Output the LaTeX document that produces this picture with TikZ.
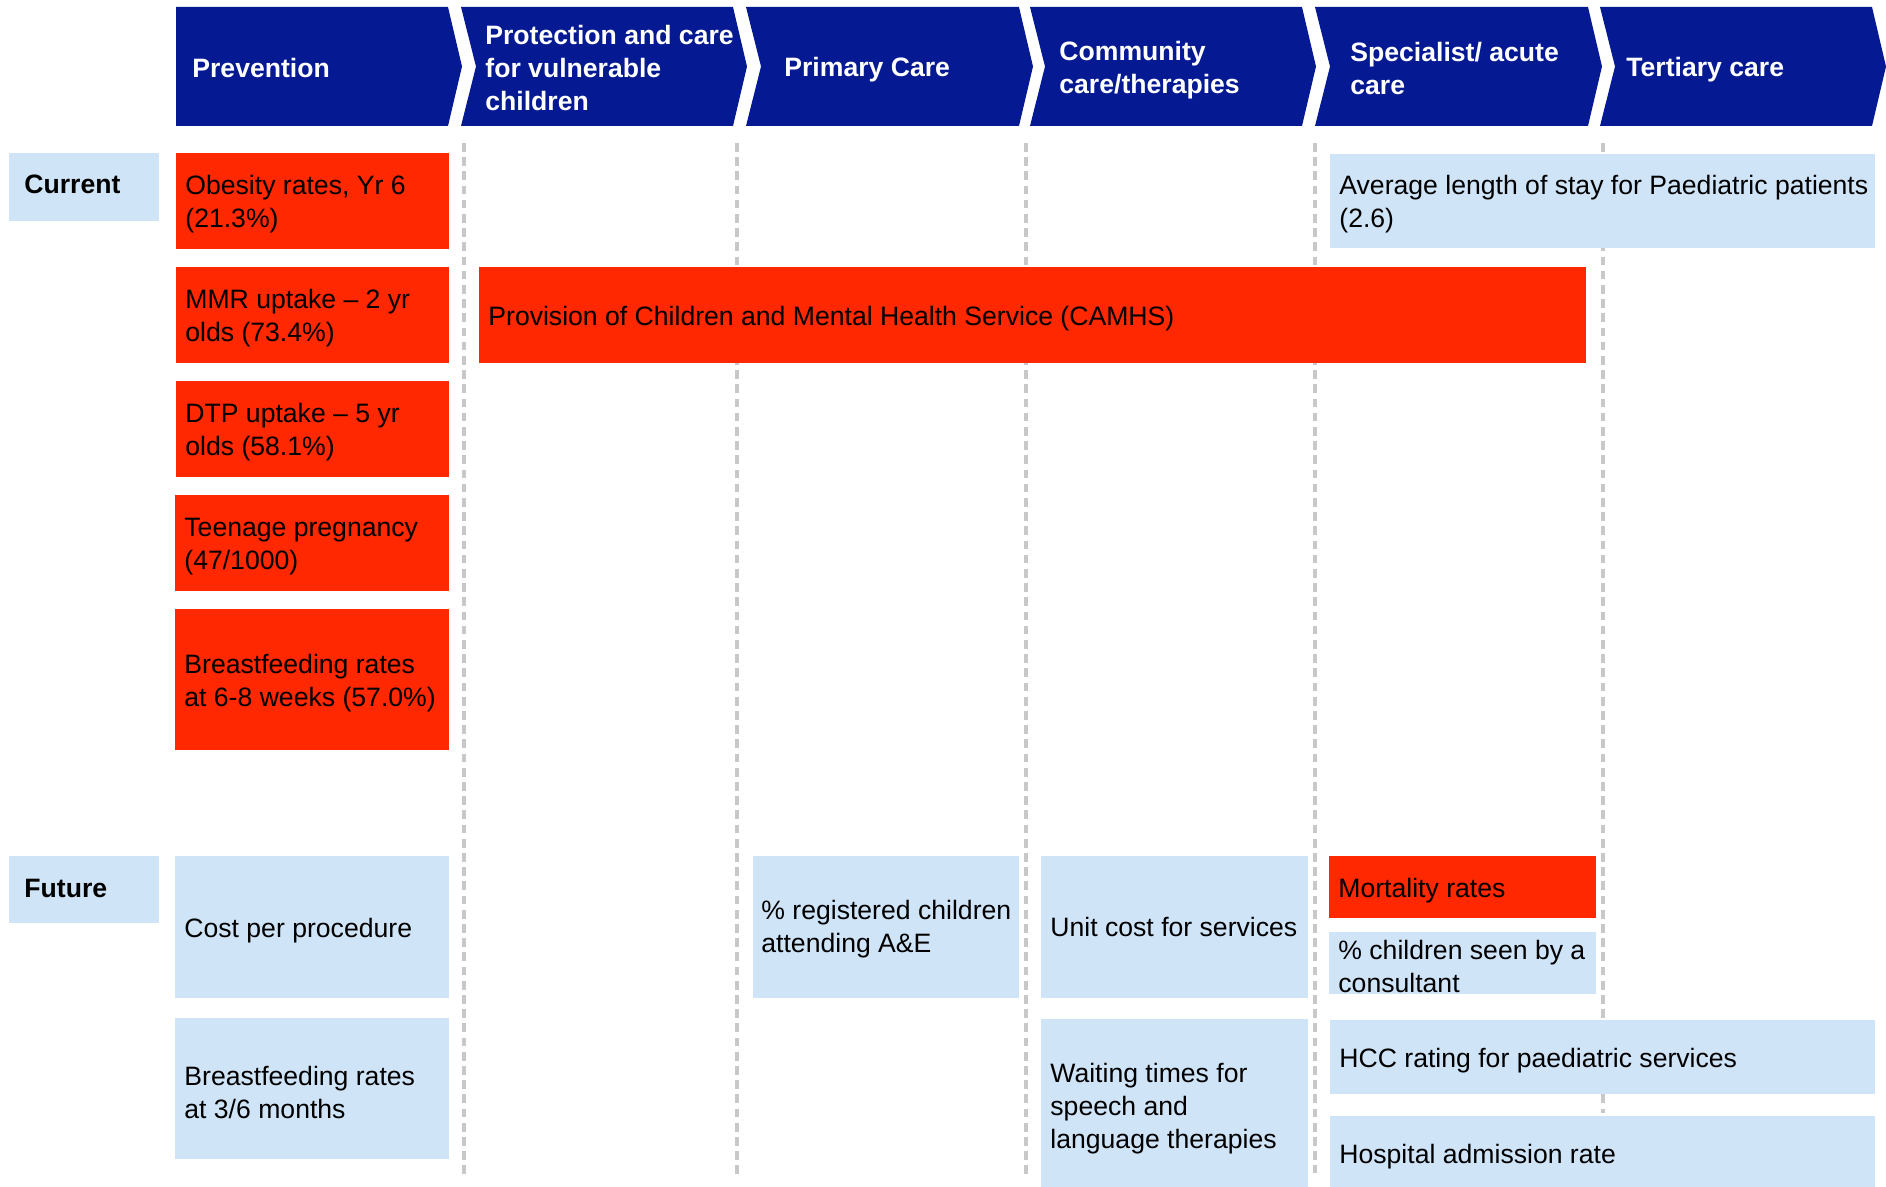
\documentclass[tikz,border=0pt]{standalone}
\usepackage{fontspec}
\setmainfont{Liberation Sans}
\usepackage{tikz}

\definecolor{navyband}{RGB}{4,25,146}
\definecolor{redflag}{RGB}{255,40,0}
\definecolor{paleblue}{RGB}{208,228,248}
\definecolor{gridgrey}{RGB}{200,200,200}

\tikzset{
  stagetext/.style={anchor=west, align=left, inner sep=0pt, text=white,
    font=\fontsize{13.3pt}{16.5pt}\selectfont\bfseries},
  rowtext/.style={anchor=west, align=left, inner sep=0pt, text=black,
    font=\fontsize{13.3pt}{16.5pt}\selectfont\bfseries},
  celltext/.style={anchor=west, align=left, inner sep=0pt, text=black,
    font=\fontsize{13.3pt}{16.5pt}\selectfont},
  gridline/.style={color=gridgrey, line width=1.6pt, dash pattern=on 4.35pt off 2.75pt},
}

\begin{document}
\begin{tikzpicture}[x=0.5pt,y=0.5pt,yscale=-1,xscale=1]
\useasboundingbox (0,0) rectangle (1886,1187);

%Straight Lines
\draw [gridline]    (464,143) -- (464,1177) ;
%Straight Lines
\draw [gridline]    (737,143) -- (737,1177) ;
%Straight Lines
\draw [gridline]    (1026,143) -- (1026,1177) ;
%Straight Lines
\draw [gridline]    (1315,143) -- (1315,1173) ;
%Straight Lines
\draw [gridline]    (1603,143) -- (1603,1113) ;

%Shape: Chevron
\fill [navyband]  (176,7) -- (448,7) -- (462,66.5) -- (448,126) -- (176,126) -- cycle ;
%Shape: Chevron
\fill [navyband]  (461,7) -- (733,7) -- (747,66.5) -- (733,126) -- (461,126) -- (476,66.5) -- cycle ;
%Shape: Chevron
\fill [navyband]  (746,7) -- (1019,7) -- (1033,66.5) -- (1019,126) -- (746,126) -- (761,66.5) -- cycle ;
%Shape: Chevron
\fill [navyband]  (1030,7) -- (1302,7) -- (1316,66.5) -- (1302,126) -- (1030,126) -- (1045,66.5) -- cycle ;
%Shape: Chevron
\fill [navyband]  (1315,7) -- (1588,7) -- (1602,66.5) -- (1588,126) -- (1315,126) -- (1330,66.5) -- cycle ;
%Shape: Chevron
\fill [navyband]  (1600,7) -- (1872,7) -- (1886,66.5) -- (1872,126) -- (1600,126) -- (1615,66.5) -- cycle ;

%Shape: Rectangle
\fill [paleblue]  (9,153) rectangle (159,221) ;
%Shape: Rectangle
\fill [paleblue]  (9,856) rectangle (159,923) ;

%Shape: Rectangle
\fill [redflag]  (176,153) rectangle (449,249) ;
%Shape: Rectangle
\fill [redflag]  (176,267) rectangle (449,363) ;
%Shape: Rectangle
\fill [redflag]  (176,381) rectangle (449,477) ;
%Shape: Rectangle
\fill [redflag]  (175,495) rectangle (449,591) ;
%Shape: Rectangle
\fill [redflag]  (175,609) rectangle (449,750) ;
%Shape: Rectangle
\fill [redflag]  (479,267) rectangle (1586,363) ;
%Shape: Rectangle
\fill [paleblue]  (1330,154) rectangle (1875,248) ;

%Shape: Rectangle
\fill [paleblue]  (175,856) rectangle (449,998) ;
%Shape: Rectangle
\fill [paleblue]  (175,1018) rectangle (449,1159) ;
%Shape: Rectangle
\fill [paleblue]  (753,856) rectangle (1019,998) ;
%Shape: Rectangle
\fill [paleblue]  (1041,856) rectangle (1308,998) ;
%Shape: Rectangle
\fill [paleblue]  (1041,1019) rectangle (1308,1191) ;
%Shape: Rectangle
\fill [redflag]  (1329,856) rectangle (1596,918) ;
%Shape: Rectangle
\fill [paleblue]  (1329,932) rectangle (1596,994) ;
%Shape: Rectangle
\fill [paleblue]  (1330,1020) rectangle (1875,1094) ;
%Shape: Rectangle
\fill [paleblue]  (1330,1116) rectangle (1875,1191) ;

% Text Node
\node [stagetext] (prevention) at (192,67.5) {Prevention};
% Text Node
\node [stagetext] (protection) at (485,67.5) {Protection and care\\for vulnerable\\children};
% Text Node
\node [stagetext] (primary) at (784,70) {Primary Care};
% Text Node
\node [stagetext] (community) at (1059,70) {Community\\care/therapies};
% Text Node
\node [stagetext] (specialist) at (1350,68) {Specialist/ acute\\care};
% Text Node
\node [stagetext] (tertiary) at (1626,70) {Tertiary care};

% Text Node
\node [rowtext] (current) at (24,184.5) {Current};
% Text Node
\node [rowtext] (future) at (24,888) {Future};

% Text Node
\node [celltext] (obesity) at (185,204.5) {Obesity rates, Yr 6\\(21.3\%)};
% Text Node
\node [celltext] (mmr) at (185,318.5) {MMR uptake \textendash{} 2 yr\\olds (73.4\%)};
% Text Node
\node [celltext] (dtp) at (185,432.5) {DTP uptake \textendash{} 5 yr\\olds (58.1\%)};
% Text Node
\node [celltext] (teenage) at (184,546.5) {Teenage pregnancy\\(47/1000)};
% Text Node
\node [celltext] (breastsix) at (184,683) {Breastfeeding rates\\at 6-8 weeks (57.0\%)};
% Text Node
\node [celltext] (camhs) at (488,318.5) {Provision of Children and Mental Health Service (CAMHS)};
% Text Node
\node [celltext] (lengthstay) at (1339,204.5) {Average length of stay for Paediatric patients\\(2.6)};

% Text Node
\node [celltext] (costproc) at (184,930.5) {Cost per procedure};
% Text Node
\node [celltext] (breastthree) at (184,1092) {Breastfeeding rates\\at 3/6 months};
% Text Node
\node [celltext] (registered) at (761,929.5) {\% registered children\\attending A\&E};
% Text Node
\node [celltext] (unitcost) at (1050,927) {Unit cost for services};
% Text Node
\node [celltext] (waiting) at (1050,1108.5) {Waiting times for\\speech and\\language therapies};
% Text Node
\node [celltext] (mortality) at (1338,890.5) {Mortality rates};
% Text Node
\node [celltext] (consultant) at (1338,966.5) {\% children seen by a\\consultant};
% Text Node
\node [celltext] (hccrating) at (1339,1060.5) {HCC rating for paediatric services};
% Text Node
\node [celltext] (admission) at (1339,1156.5) {Hospital admission rate};

\end{tikzpicture}
\end{document}
